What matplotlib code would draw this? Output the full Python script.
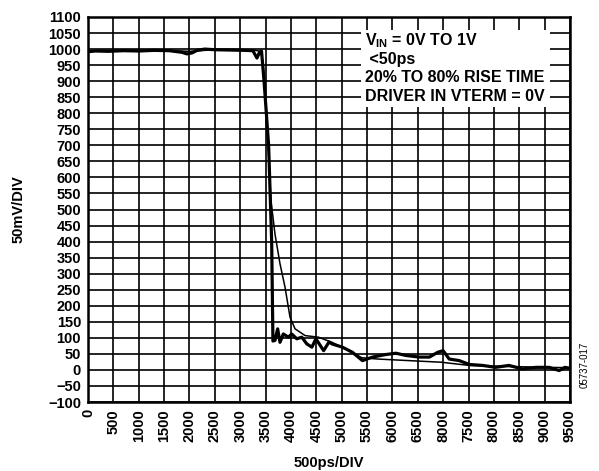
import matplotlib.pyplot as plt
from matplotlib.patches import Rectangle

plt.rcParams['font.family'] = ['Liberation Sans', 'DejaVu Sans']
plt.rcParams['mathtext.fontset'] = 'custom'
plt.rcParams['mathtext.rm'] = 'Liberation Sans'
plt.rcParams['mathtext.bf'] = 'Liberation Sans:bold'

# thick (noisy) trace, ps / mV
x_thick = [0, 150, 400, 700, 1000, 1300, 1600, 1850, 1950, 2050, 2150, 2300, 2500,
           2800, 3100, 3250, 3330, 3380, 3420, 3470, 3560, 3620, 3645, 3685, 3738,
           3784, 3850, 3949, 4015, 4115, 4214, 4313, 4413, 4492, 4644, 4750, 4809,
           5013, 5211, 5409, 5607, 5871, 6069, 6267, 6531, 6729, 6894, 7000, 7119,
           7317, 7515, 7778, 8033, 8297, 8561, 8825, 9089, 9287, 9400, 9500]
y_thick = [992, 994, 993, 995, 994, 996, 995, 990, 985, 988, 996, 1000, 998,
           997, 996, 995, 972, 990, 994, 900, 700, 400, 90, 92, 128,
           86, 112, 102, 112, 97, 102, 81, 71, 97, 60, 87, 81,
           71, 55, 29, 40, 48, 52, 45, 40, 40, 55, 60, 34,
           29, 17, 14, 8, 14, 3, 8, 8, -2, 8, 5]

# thin (smooth) trace
x_thin = [0, 500, 1000, 1500, 2000, 2500, 3000, 3300, 3400, 3450, 3520, 3606, 3685,
          3784, 3883, 3982, 4081, 4279, 4543, 4809, 5066, 5396, 5700, 6200, 6960,
          7515, 8000, 8500, 9000, 9500]
y_thin = [995, 996, 995, 996, 993, 998, 997, 996, 993, 960, 800, 528, 424,
          331, 258, 164, 128, 107, 102, 86, 66, 38, 34, 30, 24,
          14, 12, 10, 8, 7]

x_ticks = list(range(0, 10000, 500))
x_tick_labels = ['0', '500', '1000', '1500', '2000', '2500', '3000', '3500', '4000',
                 '4500', '5000', '5500', '6000', '6500', '8000', '7500', '8000',
                 '8500', '9000', '9500']
y_ticks = list(range(-100, 1150, 50))
y_tick_labels = ['\u2212100', '\u221250'] + [str(v) for v in range(0, 1150, 50)]

note_lines = [r'$\mathbf{V_{IN}}$ = 0V TO 1V', ' <50ps', '20% TO 80% RISE TIME',
              'DRIVER IN VTERM = 0V']

fig = plt.figure(figsize=(5.99, 4.71), dpi=100)
ax = fig.add_axes([88 / 599, 1 - 402 / 471, 482 / 599, 385 / 471])

ax.set_xlim(0, 9500)
ax.set_ylim(-100, 1100)
ax.set_xticks(x_ticks)
ax.set_xticklabels(x_tick_labels, rotation=90, fontsize=10.5, fontweight='bold')
ax.set_yticks(y_ticks)
ax.set_yticklabels(y_tick_labels, fontsize=10.5, fontweight='bold')
ax.tick_params(length=0, pad=5)
ax.set_axisbelow(True)
ax.grid(True, color='black', linewidth=1.2)
for s in ax.spines.values():
    s.set_linewidth(1.8)

# white label box over the grid
ax.add_patch(Rectangle((5390, 819), 3710, 241, facecolor='white',
                       edgecolor='none', zorder=1.5))
for i, line in enumerate(note_lines):
    ax.text(5460, 1026 - i * 58, line, fontsize=11.5, fontweight='bold',
            va='center', ha='left', zorder=4)

ax.plot(x_thin, y_thin, color='black', linewidth=1.1, zorder=3)
ax.plot(x_thick, y_thick, color='black', linewidth=2.3, zorder=3)

ax.set_xlabel('500ps/DIV', fontsize=10.5, fontweight='bold', labelpad=10)
ax.set_ylabel('50mV/DIV', fontsize=10.5, fontweight='bold', labelpad=16)

fig.text(585 / 599, 1 - 365 / 471, '05737-017', rotation=90, fontsize=7,
         ha='center', va='center')

fig.savefig('out.png', dpi=100)
